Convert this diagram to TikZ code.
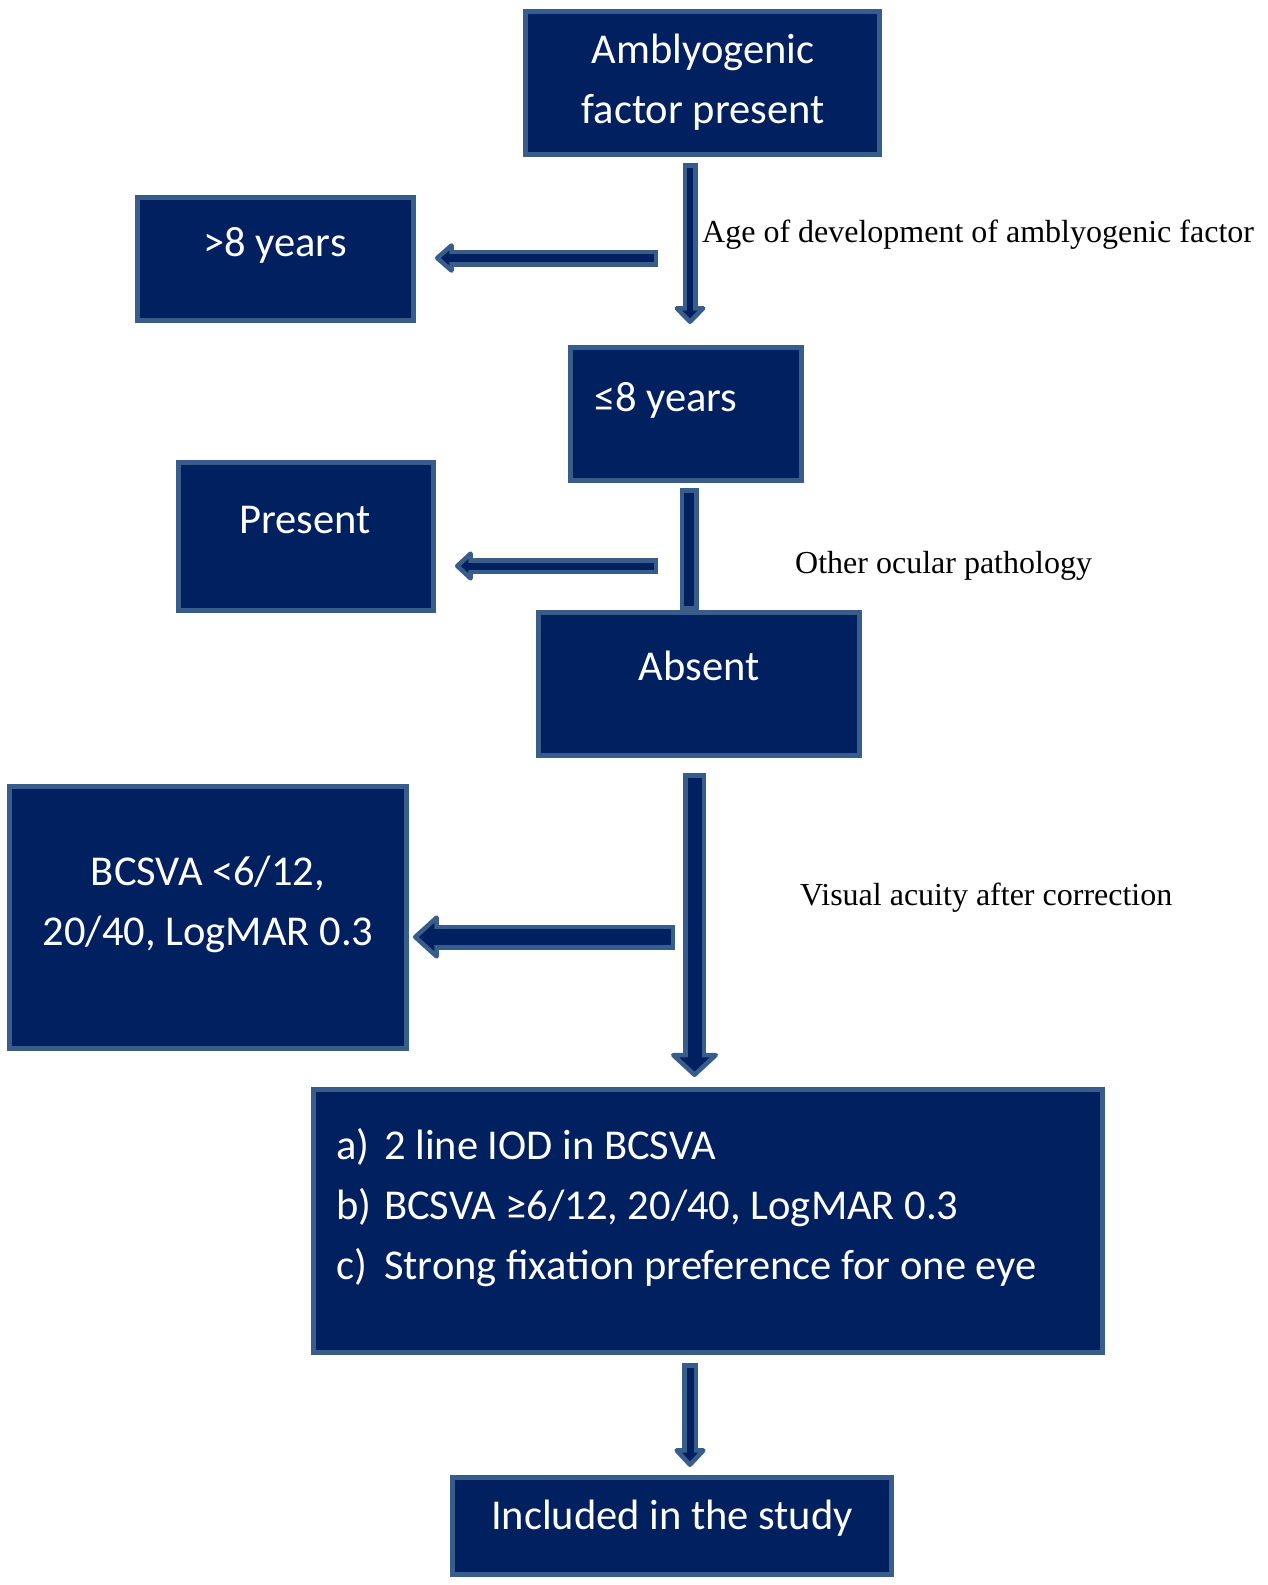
\documentclass[tikz,border=0pt]{standalone}
\usepackage{fontspec}
\setmainfont{Liberation Serif}
\newfontfamily\calfont{Carlito}
\usetikzlibrary{arrows.meta}

\definecolor{navy}{HTML}{002060}
\definecolor{arrowedge}{HTML}{385D8A}

\tikzset{
    box/.style={draw=arrowedge, fill=navy, line width=5pt, inner sep=0pt},
    boxtext/.style={text=white, font=\calfont\fontsize{42.5}{60}\selectfont, inner sep=0pt, align=center},
    note/.style={font=\fontsize{32}{38}\selectfont, inner sep=0pt, anchor=base west},
}

% shaft width, head width, head length, from, to
\newcommand{\blockarrow}[5]{%
    \draw[arrowedge, line width=#1, -{Triangle[length=#3, width=#2, fill=navy, line width=4.5pt, round]}] (#4) -- (#5);
    \draw[navy, line width=#1-9pt, shorten <=4.5pt, shorten >=#3-6pt] (#4) -- (#5);
}

\begin{document}
\begin{tikzpicture}[x=1pt, y=-1pt]
    \useasboundingbox (0,0) rectangle (1267,1585);

    % boxes
    \node[box, minimum width=354pt, minimum height=143pt] (factor) at (702.5,83) {};
    \node[box, minimum width=276pt, minimum height=123pt] (older) at (275.5,259) {};
    \node[box, minimum width=231pt, minimum height=133pt] (younger) at (686,414) {};
    \node[box, minimum width=255pt, minimum height=148pt] (present) at (306,536.5) {};
    \node[box, minimum width=321pt, minimum height=143pt] (absent) at (699,684) {};
    \node[box, minimum width=397pt, minimum height=262pt] (lowva) at (208,917.5) {};
    \node[box, minimum width=789pt, minimum height=263pt] (criteria) at (708,1221) {};
    \node[box, minimum width=439pt, minimum height=97pt] (included) at (672,1526) {};

    % box texts (base = last line)
    \node[boxtext, anchor=base] (factortxt) at (703,123) {Amblyogenic\\factor present};
    \node[boxtext, anchor=base] (oldertxt) at (275,256) {>8 years};
    \node[boxtext, anchor=base west] (youngertxt) at (594,411) {≤8 years};
    \node[boxtext, anchor=base] (presenttxt) at (305,533) {Present};
    \node[boxtext, anchor=base] (absenttxt) at (699,680) {Absent};
    \node[boxtext, anchor=base] (lowvatxt) at (208,945) {BCSVA <6/12,\\20/40, LogMAR 0.3};
    \node[boxtext, align=left, anchor=base west] (criteriatxt) at (336,1279)
        {\makebox[48pt][l]{a)}2 line IOD in BCSVA\\
         \makebox[48pt][l]{b)}BCSVA ≥6/12, 20/40, LogMAR 0.3\\
         \makebox[48pt][l]{c)}Strong fixation preference for one eye};
    \node[boxtext, anchor=base] (includedtxt) at (672,1529) {Included in the study};

    % notes
    \node[note] (agenote) at (702,242) {Age of development of amblyogenic factor};
    \node[note] (pathnote) at (795,573) {Other ocular pathology};
    \node[note] (acuitynote) at (800,905) {Visual acuity after correction};

    % arrows
    \coordinate (a1s) at (690,163);
    \coordinate (a1e) at (690,324);
    \coordinate (h1s) at (658,258);
    \coordinate (h1e) at (435,258);
    \coordinate (v2s) at (689,488);
    \coordinate (h2s) at (658,566);
    \coordinate (h2e) at (455,566);
    \coordinate (a3s) at (694.5,773);
    \coordinate (a3e) at (694.5,1077);
    \coordinate (h3s) at (675,937);
    \coordinate (h3e) at (413,937);
    \coordinate (a4s) at (690,1363);
    \coordinate (a4e) at (690,1467);

    \blockarrow{15pt}{36pt}{19pt}{a1s}{a1e}
    \blockarrow{17pt}{34pt}{20pt}{h1s}{h1e}
    \blockarrow{16pt}{34pt}{19pt}{h2s}{h2e}
    \blockarrow{23pt}{53pt}{25pt}{a3s}{a3e}
    \blockarrow{25pt}{48pt}{27pt}{h3s}{h3e}
    \blockarrow{16pt}{36pt}{20pt}{a4s}{a4e}

    \draw[arrowedge, line width=19pt] (v2s) -- (v2s |- absent.north);
    \draw[navy, line width=10pt, shorten <=4.5pt, shorten >=4.5pt] (v2s) -- (v2s |- absent.north);
\end{tikzpicture}
\end{document}
